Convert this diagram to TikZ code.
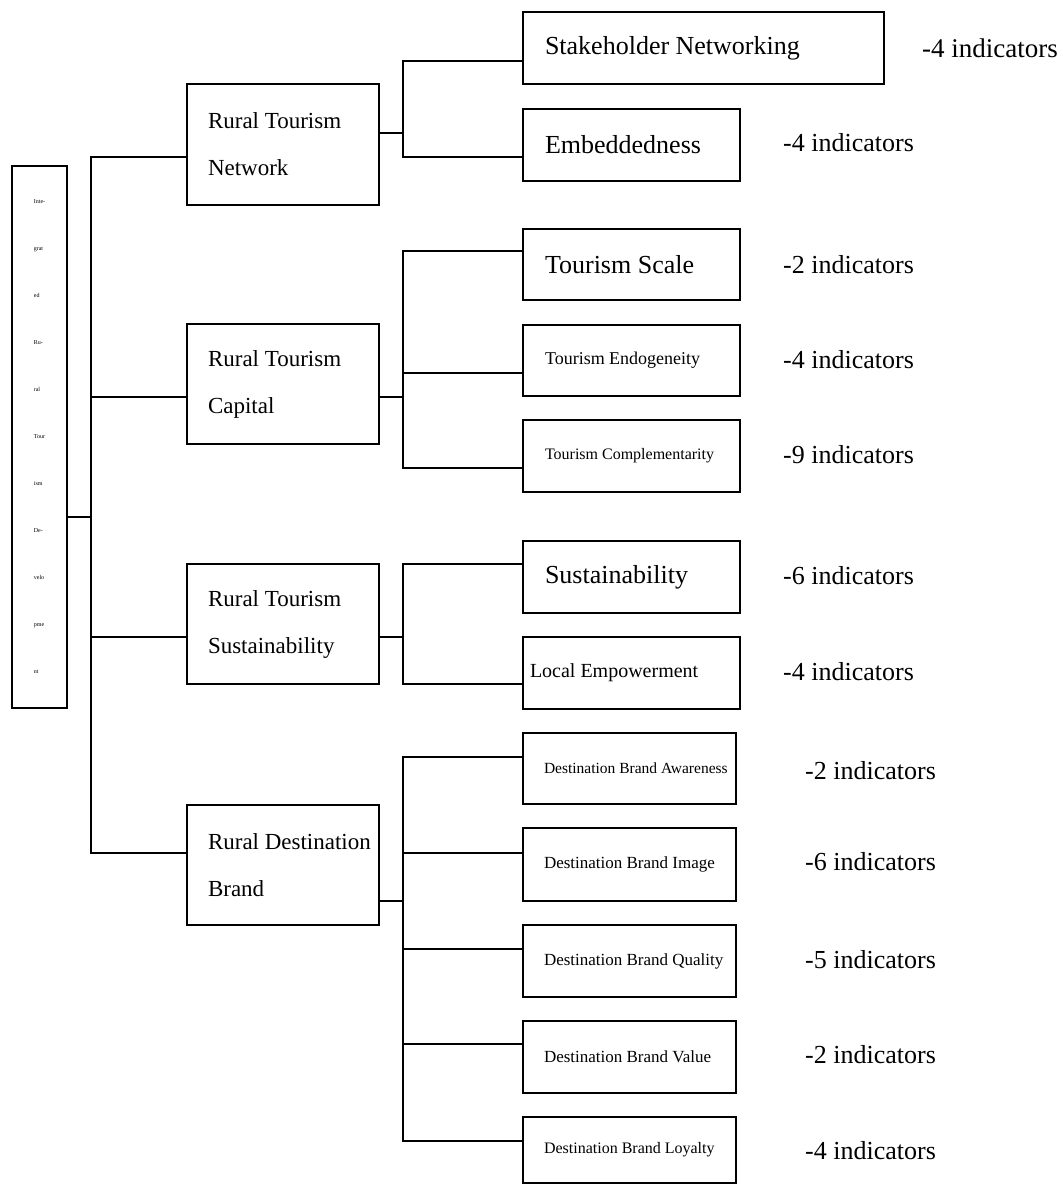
\documentclass[tikz,border=0pt]{standalone}
\usepackage{fontspec}
\setmainfont{Liberation Serif}
\begin{document}
\begin{tikzpicture}[x=1pt,y=-1pt,
  box/.style={draw, line width=1.3pt, inner sep=0pt, align=flush left},
  conn/.style={line width=1.3pt},
  ind/.style={anchor=west, inner sep=0pt, font=\fontsize{26}{30}\selectfont},
  lone/.style={box, minimum width=192pt, minimum height=121pt, text width=192pt, font=\fontsize{23}{47}\selectfont},
  ltwo/.style={box, minimum width=217pt, minimum height=72pt, text width=217pt},
  ldst/.style={box, minimum width=213pt, minimum height=72pt, text width=213pt}
]
\useasboundingbox (0,0) rectangle (1063,1184);
\fill[white] (0,0) rectangle (1063,1184);

% root
\node[box, minimum width=55pt, minimum height=542pt, font=\fontsize{6}{47}\selectfont] (root) at (39.5,437)
  {Inte-\\grat\\ed\\Ru-\\ral\\Tour\\ism\\De-\\velo\\pme\\nt};

% level 1
\node[lone] (n1) at (283,144.5) {\hspace*{21pt}Rural Tourism\\\hspace*{21pt}Network};
\node[lone, minimum height=120pt] (n2) at (283,384) {\hspace*{21pt}Rural Tourism\\\hspace*{21pt}Capital};
\node[lone, minimum height=120pt] (n3) at (283,624) {\hspace*{21pt}Rural Tourism\\\hspace*{21pt}Sustainability};
\node[lone, minimum height=120pt] (n4) at (283,865) {\hspace*{21pt}\mbox{Rural Destination}\\\hspace*{21pt}Brand};

% level 2
\node[box, minimum width=361pt, minimum height=72pt, text width=361pt, font=\fontsize{26}{30}\selectfont] (s1) at (703.5,48) {\hspace*{22pt}Stakeholder Networking};
\node[ltwo, font=\fontsize{26}{30}\selectfont] (s2) at (631.5,145) {\hspace*{22pt}Embeddedness};
\node[ltwo, minimum height=71pt, font=\fontsize{26}{30}\selectfont] (s3) at (631.5,264.5) {\hspace*{22pt}Tourism Scale};
\node[ltwo, minimum height=71pt, font=\fontsize{18}{22}\selectfont] (s4) at (631.5,360.5) {\hspace*{22pt}\mbox{Tourism Endogeneity}};
\node[ltwo, font=\fontsize{16}{20}\selectfont] (s5) at (631.5,456) {\hspace*{22pt}\mbox{Tourism Complementarity}};
\node[ltwo, font=\fontsize{26}{30}\selectfont] (s6) at (631.5,577) {\hspace*{22pt}Sustainability};
\node[ltwo, font=\fontsize{20}{24}\selectfont] (s7) at (631.5,673) {\hspace*{7pt}\mbox{Local Empowerment}};

\node[ldst, minimum height=71pt, font=\fontsize{15.5}{20}\selectfont] (d1) at (629.5,768.5) {\hspace*{21pt}\mbox{Destination Brand Awareness}};
\node[ldst, minimum height=73pt, font=\fontsize{17}{20}\selectfont] (d2) at (629.5,864.5) {\hspace*{21pt}\mbox{Destination Brand Image}};
\node[ldst, font=\fontsize{17}{20}\selectfont] (d3) at (629.5,961) {\hspace*{21pt}\mbox{Destination Brand Quality}};
\node[ldst, font=\fontsize{17}{20}\selectfont] (d4) at (629.5,1057) {\hspace*{21pt}\mbox{Destination Brand Value}};
\node[ldst, minimum height=66pt, font=\fontsize{16}{20}\selectfont] (d5) at (629.5,1150) {\hspace*{21pt}\mbox{Destination Brand Loyalty}};

% indicator labels
\node[ind, font=\fontsize{27}{30}\selectfont] (i1) at (922,48) {-4 indicators};
\node[ind] (i2) at (783,143) {-4 indicators};
\node[ind] (i3) at (783,265) {-2 indicators};
\node[ind] (i4) at (783,360) {-4 indicators};
\node[ind] (i5) at (783,455) {-9 indicators};
\node[ind] (i6) at (783,576) {-6 indicators};
\node[ind] (i7) at (783,672) {-4 indicators};
\node[ind] (i8) at (805,771) {-2 indicators};
\node[ind] (i9) at (805,862) {-6 indicators};
\node[ind] (i10) at (805,960) {-5 indicators};
\node[ind] (i11) at (805,1055) {-2 indicators};
\node[ind] (i12) at (805,1151) {-4 indicators};

% connectors: root
\coordinate (r0) at (91,517);
\coordinate (r1) at (91,157);
\coordinate (r2) at (91,397);
\coordinate (r3) at (91,637);
\coordinate (r4) at (91,853);
\draw[conn] (root.east |- r0) -- (r0);
\draw[conn] (r1 -| n1.west) -- (r1) -- (r4) -- (r4 -| n4.west);
\draw[conn] (r2) -- (r2 -| n2.west);
\draw[conn] (r3) -- (r3 -| n3.west);

% network
\coordinate (a0) at (403,133);
\coordinate (a1) at (403,61);
\coordinate (a2) at (403,157);
\draw[conn] (n1.east |- a0) -- (a0);
\draw[conn] (a1 -| s1.west) -- (a1) -- (a2) -- (a2 -| s2.west);

% capital
\coordinate (b0) at (403,397);
\coordinate (b1) at (403,251);
\coordinate (b2) at (403,373);
\coordinate (b3) at (403,468);
\draw[conn] (n2.east |- b0) -- (b0);
\draw[conn] (b1 -| s3.west) -- (b1) -- (b3) -- (b3 -| s5.west);
\draw[conn] (b2) -- (b2 -| s4.west);

% sustainability
\coordinate (c0) at (403,637);
\coordinate (c1) at (403,564);
\coordinate (c2) at (403,684);
\draw[conn] (n3.east |- c0) -- (c0);
\draw[conn] (c1 -| s6.west) -- (c1) -- (c2) -- (c2 -| s7.west);

% brand
\coordinate (e0) at (403,901);
\coordinate (e1) at (403,757);
\coordinate (e2) at (403,853);
\coordinate (e3) at (403,949);
\coordinate (e4) at (403,1044);
\coordinate (e5) at (403,1141);
\draw[conn] (n4.east |- e0) -- (e0);
\draw[conn] (e1 -| d1.west) -- (e1) -- (e5) -- (e5 -| d5.west);
\draw[conn] (e2) -- (e2 -| d2.west);
\draw[conn] (e3) -- (e3 -| d3.west);
\draw[conn] (e4) -- (e4 -| d4.west);
\end{tikzpicture}
\end{document}
